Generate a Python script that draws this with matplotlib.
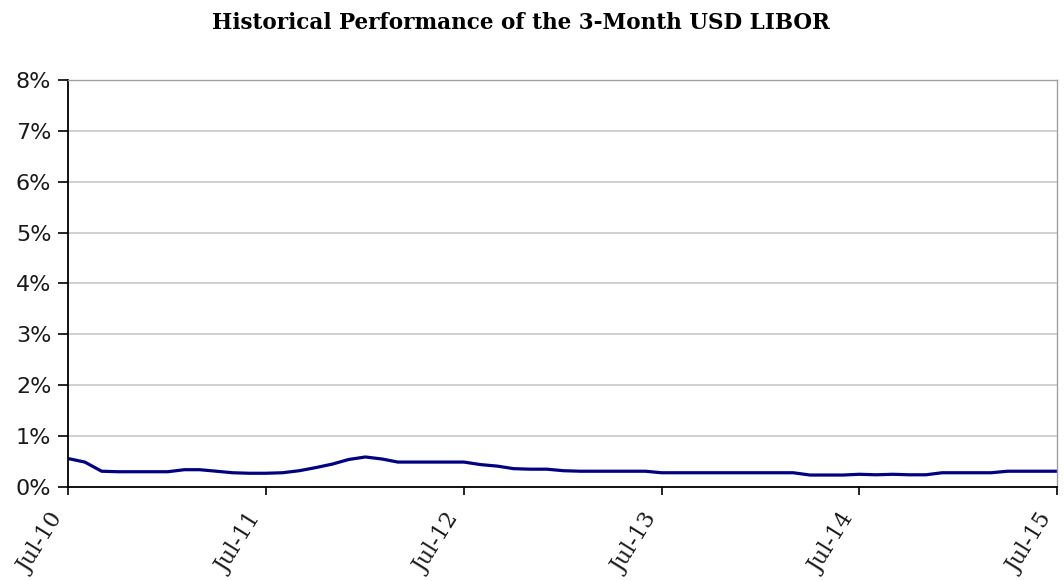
import matplotlib
matplotlib.use("Agg")
import matplotlib.pyplot as plt
import datetime as dt

# monthly 3-month USD LIBOR (%), Jul-2010 .. Jul-2015
libor = [0.56, 0.49, 0.31, 0.30, 0.30, 0.30, 0.30, 0.34, 0.34, 0.31,
         0.28, 0.27, 0.27, 0.28, 0.32, 0.38, 0.45, 0.54, 0.59, 0.55,
         0.49, 0.49, 0.49, 0.49, 0.49, 0.44, 0.41, 0.36, 0.35, 0.35,
         0.32, 0.31, 0.31, 0.31, 0.31, 0.31, 0.28, 0.28, 0.28, 0.28,
         0.28, 0.28, 0.28, 0.28, 0.28, 0.235, 0.235, 0.235, 0.25, 0.24,
         0.25, 0.24, 0.24, 0.28, 0.28, 0.28, 0.28, 0.31, 0.31, 0.31,
         0.31]
dates = [dt.date(2010 + (6 + i) // 12, (6 + i) % 12 + 1, 1) for i in range(len(libor))]
tick_dates = [dt.date(y, 7, 1) for y in range(2010, 2016)]
tick_labels = ['Jul-10', 'Jul-11', 'Jul-12', 'Jul-13', 'Jul-14', 'Jul-15']
y_ticks = [0, 1, 2, 3, 4, 5, 6, 7, 8]

fig = plt.figure(figsize=(10.64, 5.81), dpi=100)
ax = fig.add_axes([0.0639, 0.1618, 0.9295, 0.7005])

ax.plot(dates, libor, color='#000080', linewidth=2.3)

ax.set_xlim(tick_dates[0], tick_dates[-1])
ax.set_ylim(0, 8)
ax.set_yticks(y_ticks)
ax.set_yticklabels(['%d%%' % v for v in y_ticks], fontsize=16, color='#1a1a1a')
ax.set_xticks(tick_dates)
ax.set_xticklabels(tick_labels, rotation=58, ha='right', va='bottom', rotation_mode='anchor',
                   fontsize=16, family='DejaVu Serif', color='#1a1a1a')
ax.grid(axis='y', color='#c8c8c8', linewidth=1.2)
ax.set_axisbelow(True)
ax.tick_params(axis='y', direction='out', length=7, width=1.2, pad=5)
ax.tick_params(axis='x', direction='out', length=6, width=1.2, pad=18)

for s in ['left', 'bottom']:
    ax.spines[s].set_color('black')
    ax.spines[s].set_linewidth(1.3)
for s in ['top', 'right']:
    ax.spines[s].set_color('#a0a0a0')
    ax.spines[s].set_linewidth(1.0)

fig.text(0.49, 0.96, 'Historical Performance of the 3-Month USD LIBOR',
         ha='center', va='center', fontsize=15.5, fontweight='bold', family='DejaVu Serif')

fig.savefig('out.png', dpi=100)
